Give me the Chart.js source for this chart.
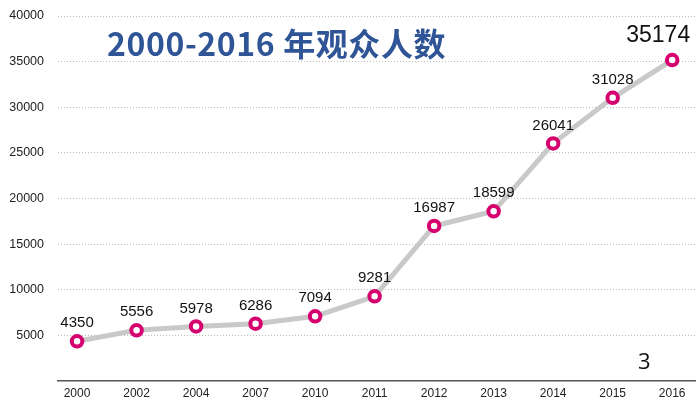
<!DOCTYPE html>
<html>
<head>
<meta charset="utf-8">
<script src="https://cdn.jsdelivr.net/npm/chart.js@4"></script>
<style>
  body { margin: 0; background: #fff; }
  #wrap { position: relative; width: 696px; height: 401px; }
  #title { position: absolute; left: 107px; top: 19px; font: bold 32px "Noto Sans CJK SC", "Open Sans", sans-serif; letter-spacing: 0.6px; color: #2F5597; white-space: nowrap; }
  #page { position: absolute; left: 638px; top: 345px; font: 22px "Open Sans", "Liberation Sans", sans-serif; color: #111; }
</style>
</head>
<body>
<div id="wrap">
  <canvas id="chart" width="696" height="401"></canvas>
  <div id="title">2000-2016 年观众人数</div>
  <div id="page">3</div>
</div>
<script>
const years = ['2000', '2002', '2004', '2007', '2010', '2011', '2012', '2013', '2014', '2015', '2016'];
const visitors = [4350, 5556, 5978, 6286, 7094, 9281, 16987, 18599, 26041, 31028, 35174];
const yTicks = [0, 5000, 10000, 15000, 20000, 25000, 30000, 35000, 40000];

// value labels above each point, last one bigger
const pointLabels = {
    id: 'pointLabels',
    afterDatasetsDraw(chart) {
        const ctx = chart.ctx;
        const meta = chart.getDatasetMeta(0);
        ctx.save();
        ctx.fillStyle = '#111';
        ctx.textAlign = 'center';
        ctx.textBaseline = 'middle';
        meta.data.forEach((pt, i) => {
            if (i === meta.data.length - 1) {
                ctx.font = '23px "Liberation Sans", Arial, sans-serif';
                ctx.fillText(visitors[i], pt.x - 14, pt.y - 24);
            } else {
                ctx.font = '15px "Liberation Sans", Arial, sans-serif';
                ctx.fillText(visitors[i], pt.x, pt.y - 18);
            }
        });
        ctx.restore();
    }
};

const ctx = document.getElementById('chart').getContext('2d');
const myChart = new Chart(ctx, {
    type: 'line',
    data: {
        datasets: [{
            data: visitors.map((v, i) => ({ x: i, y: v })),
            borderColor: '#c9c9c9',
            borderWidth: 5,
            pointRadius: 5.25,
            pointBorderWidth: 4,
            pointBorderColor: '#D6006F',
            pointBackgroundColor: '#fff',
            tension: 0
        }]
    },
    options: {
        responsive: false,
        animation: false,
        layout: { autoPadding: false, padding: { top: 16, right: 0, left: 0, bottom: 0 } },
        plugins: { legend: { display: false }, tooltip: { enabled: false } },
        scales: {
            x: {
                type: 'linear',
                min: -0.32,
                max: 10.4,
                afterBuildTicks: s => { s.ticks = years.map((y, i) => ({ value: i })); },
                afterFit: s => { s.height = 20; },
                ticks: {
                    callback: v => years[v],
                    color: '#222',
                    font: { size: 12, family: '"Liberation Sans", Arial, sans-serif' },
                    padding: 5
                },
                grid: { display: false, drawTicks: false },
                border: { display: true, color: '#555', width: 1.5 }
            },
            y: {
                min: 0,
                max: 40000,
                afterBuildTicks: s => { s.ticks = yTicks.map(v => ({ value: v })); },
                afterFit: s => { s.width = 58; s.paddingTop = 0; s.paddingBottom = 0; },
                ticks: {
                    callback: v => v === 0 ? '' : v,
                    color: '#222',
                    font: { size: 12.5, family: '"Liberation Sans", Arial, sans-serif' },
                    padding: 14
                },
                grid: {
                    color: c => c.tick && c.tick.value === 0 ? 'rgba(0,0,0,0)' : '#bbb',
                    drawTicks: false,
                    lineWidth: 1
                },
                border: { display: false, dash: [1, 2] }
            }
        }
    },
    plugins: [pointLabels]
});
</script>
</body>
</html>
